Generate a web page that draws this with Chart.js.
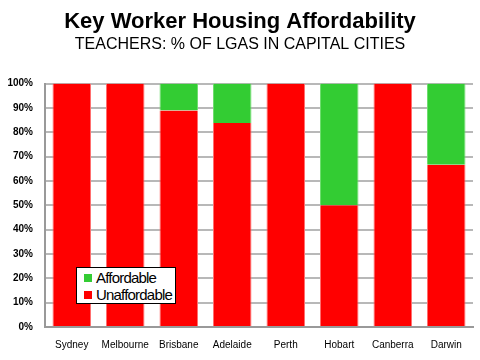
<!DOCTYPE html>
<html><head><meta charset="utf-8">
<script src="https://cdn.jsdelivr.net/npm/chart.js@4"></script>
<style>
html,body{margin:0;padding:0;background:#fff;}
#wrap{position:relative;width:480px;height:360px;}
#legend{position:absolute;left:76px;top:267px;width:100px;height:37px;border:1px solid #000;background:#fff;font-family:"Liberation Sans",Arial,sans-serif;font-size:15px;line-height:17px;letter-spacing:-0.8px;padding:1px 0 0 7px;box-sizing:border-box;}
#legend .it{display:flex;align-items:center;white-space:nowrap;}
#legend .sw{width:8px;height:8px;margin-right:4px;flex-shrink:0;}
</style></head>
<body><div id="wrap"><canvas id="c" width="480" height="360"></canvas><div id="legend"></div></div>
<script>
const categories = ["Sydney","Melbourne","Brisbane","Adelaide","Perth","Hobart","Canberra","Darwin"];
const unaffordable = [100,100,88.9,83.8,100,50,100,66.7];
const affordable = [0,0,11.1,16.2,0,50,0,33.3];
const yTicks = [0,10,20,30,40,50,60,70,80,90,100];
const titleText = "Key Worker Housing Affordability";
const subtitleText = "TEACHERS: % OF LGAS IN CAPITAL CITIES";

const dsUnaff = {label:"Unaffordable", data:unaffordable, backgroundColor:"#ff0000", borderColor:"#ff7070", borderWidth:{left:1,right:1,top:0,bottom:0}};
const dsAff = {label:"Affordable", data:affordable, backgroundColor:"#33cc33", borderColor:"#70dd70", borderWidth:{left:1,right:1,top:0,bottom:0}};

const chart = new Chart(document.getElementById('c'), {
  type:'bar',
  data:{labels:categories, datasets:[dsUnaff, dsAff]},
  options:{
    responsive:false, animation:false,
    layout:{padding:{left:0,right:0,top:0,bottom:0}},
    plugins:{
      legend:{display:false}, tooltip:{enabled:false},
      title:{display:true,text:titleText,color:'#000',font:{family:"Liberation Sans",size:22,weight:'bold'},padding:{top:9,bottom:0}},
      subtitle:{display:true,text:subtitleText,color:'#000',font:{family:"Liberation Sans",size:16,weight:'normal'},padding:{top:0,bottom:29}}
    },
    scales:{
      x:{stacked:true, categoryPercentage:0.75, barPercentage:1.0,
        afterFit:s=>{s.height=33;},
        grid:{display:false, drawTicks:false},
        border:{display:true,color:'#999',width:2},
        ticks:{color:'#000',font:{family:"Liberation Sans",size:10},padding:12,maxRotation:0,autoSkip:false}},
      y:{stacked:true, min:0, max:100,
        afterFit:s=>{s.width=45;},
        afterBuildTicks:(ax)=>{ax.ticks = yTicks.map(v=>({value:v}));},
        grid:{color:'#b8b8b8',lineWidth:2,drawTicks:false},
        border:{display:true,color:'#999',width:2},
        ticks:{color:'#000',font:{family:"Liberation Sans",size:10,weight:'bold'},padding:12,callback:v=>v+'%'}},
      yPad:{position:'right', display:true, min:0, max:100,
        afterFit:s=>{s.width=7;},
        grid:{display:false, drawTicks:false}, border:{display:false}, ticks:{display:false}}
    }
  }
});
const lg = document.getElementById('legend');
[dsAff, dsUnaff].forEach(d=>{
  const it=document.createElement('div');it.className='it';
  const sw=document.createElement('span');sw.className='sw';sw.style.background=d.backgroundColor;
  const t=document.createElement('span');t.textContent=d.label;
  it.appendChild(sw);it.appendChild(t);lg.appendChild(it);
});
</script></body></html>
